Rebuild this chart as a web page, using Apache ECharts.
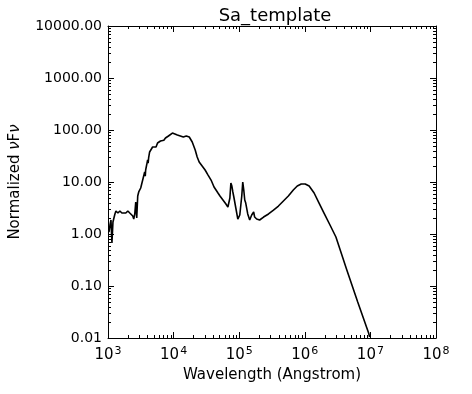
<!DOCTYPE html>
<html>
<head>
<meta charset="utf-8">
<script src="https://cdn.jsdelivr.net/npm/echarts@6/dist/echarts.min.js"></script>
<style>html,body{margin:0;padding:0;background:#fff;}#c{width:472px;height:394px;}</style>
</head>
<body>
<div id="c"></div>
<script>
const titleText = 'Sa_template';
const xName = 'Wavelength (Angstrom)';
const wavelength = [1035,1072,1110,1148,1190,1275,1321,1416,1518,1627,1745,1870,2005,2149,2304,2385,2470,2558,2648,2742,2839,2940,3050,3152,3263,3379,3499,3622,3700,3750,3883,4020,4090,4162,4310,4462,4783,5128,5400,5691,6000,6318,6773,7100,7518,7900,8346,8947,9591,10280,11410,12670,14060,15610,17330,19230,21350,22880,24530,27230,30220,33550,37240,41340,44320,47510,50930,56530,62750,67270,72110,74660,77300,80030,82860,88830,95230,102100,109400,113300,117400,121500,125800,134900,144600,155000,166200,172000,184500,204700,235300,279900,333200,396300,471800,561100,668000,767600,882300,1014000,1165000,1387000,1650000,1963000,2421000,2981000,4371000,6407000,9393000,9727000];
const flux = [1.09,1.49,1.86,0.671,1.70,2.43,2.77,2.53,2.77,2.53,2.65,2.53,2.77,2.53,2.65,2.22,1.94,2.43,4.12,2.03,5.38,6.43,5.9,7.67,9.15,10.9,10.0,15.6,13.0,17.0,21.2,26.5,23.0,29.0,37.8,41.2,47.1,49.2,47.0,56.2,60.5,61.4,64.3,63.5,70.2,74.0,76.7,83.8,87.5,83.8,80.2,76.7,73.3,76.7,73.3,58.8,41.2,30.3,24.3,20.3,17.0,13.6,10.9,8.02,7.01,6.14,5.38,4.51,3.78,3.30,4.92,9.57,8.37,6.43,5.15,3.16,1.94,2.32,5.38,10.0,7.01,4.51,3.94,2.43,1.86,2.32,2.65,2.12,1.94,1.86,2.12,2.43,2.89,3.45,4.31,5.38,7.01,8.37,9.15,9.15,8.37,6.14,3.94,2.53,1.49,0.875,0.203,0.0492,0.01248,0.01045];
const xMin = 1e3, xMax = 1e8;
const yMin = 0.01, yMax = 1e4;
const xDecades = [3,4,5,6,7];
const yDecades = [-2,-1,0,1,2,3];
const minorMult = [2,3,4,5,6,7,8,9];

const FONT = 'DejaVu Sans';
const xMinor = [];
xDecades.forEach(d => minorMult.forEach(m => xMinor.push([m * Math.pow(10, d), 1])));
const yMinor = [];
yDecades.forEach(d => minorMult.forEach(m => yMinor.push([1e4, m * Math.pow(10, d)])));

const chart = echarts.init(document.getElementById('c'), null, {renderer: 'canvas'});
const lineSt = {stroke: '#000', lineWidth: 1};
function xMinorRender(params, api) {
  const cs = params.coordSys;
  const x = Math.round(api.coord([api.value(0), 1])[0]) + 0.5;
  const b = cs.y + cs.height, t = cs.y;
  return {type: 'group', children: [
    {type: 'line', shape: {x1: x, y1: b, x2: x, y2: b - 3}, style: lineSt},
    {type: 'line', shape: {x1: x, y1: t, x2: x, y2: t + 3}, style: lineSt}
  ]};
}
function yMinorRender(params, api) {
  const cs = params.coordSys;
  const y = Math.round(api.coord([1e4, api.value(1)])[1]) + 0.5;
  const l = cs.x, r = cs.x + cs.width;
  return {type: 'group', children: [
    {type: 'line', shape: {x1: l, y1: y, x2: l + 3, y2: y}, style: lineSt},
    {type: 'line', shape: {x1: r, y1: y, x2: r - 3, y2: y}, style: lineSt}
  ]};
}
const axisCommon = {
  axisLine: {show: true, lineStyle: {color: '#000', width: 1}},
  axisTick: {show: true, inside: true, length: 6, lineStyle: {color: '#000', width: 1}},
  splitLine: {show: false},
  minorTick: {show: false}
};
chart.setOption({
  animation: false,
  backgroundColor: '#fff',
  title: {
    text: titleText, left: 270, top: 2, textAlign: 'center',
    textStyle: {fontFamily: FONT, fontSize: 18, fontWeight: 'normal', color: '#000'}
  },
  grid: {left: 105, top: 26, width: 331, height: 312},
  xAxis: [
    Object.assign({}, axisCommon, {
      type: 'log', logBase: 10, min: xMin, max: xMax, splitNumber: 5, position: 'bottom',
      name: xName, nameLocation: 'middle', nameGap: 26,
      nameTextStyle: {fontFamily: FONT, fontSize: 15, color: '#000'},
      axisLabel: {
        margin: 8, color: '#000',
        formatter: v => '{b|10}{s|' + Math.round(Math.log10(v)) + '}',
        rich: {
          b: {fontFamily: FONT, fontSize: 15, color: '#000'},
          s: {fontFamily: FONT, fontSize: 11, color: '#000', padding: [0, 0, 8, 1]}
        }
      }
    }),
    Object.assign({}, axisCommon, {
      type: 'log', logBase: 10, min: xMin, max: xMax, splitNumber: 5, position: 'top',
      axisLabel: {show: false}
    })
  ],
  yAxis: [
    Object.assign({}, axisCommon, {
      type: 'log', logBase: 10, min: yMin, max: yMax, splitNumber: 6, position: 'left',
      name: 'Normalized {i|ν}F{i|ν}', nameLocation: 'middle', nameGap: 85, nameRotate: 90,
      nameTextStyle: {fontFamily: FONT, fontSize: 15, color: '#000',
        rich: {i: {fontFamily: FONT, fontSize: 15, fontStyle: 'italic', color: '#000'}}},
      axisLabel: {margin: 6, color: '#000', fontFamily: FONT, fontSize: 14,
        formatter: v => Number(v).toFixed(2)}
    }),
    Object.assign({}, axisCommon, {
      type: 'log', logBase: 10, min: yMin, max: yMax, splitNumber: 6, position: 'right',
      axisLabel: {show: false}
    })
  ],
  series: [
    {
      type: 'line', xAxisIndex: 0, yAxisIndex: 0,
      data: wavelength.map((w, i) => [w, flux[i]]),
      showSymbol: false, symbol: 'none',
      lineStyle: {color: '#000', width: 1.6},
      clip: true
    },
    {type: 'custom', xAxisIndex: 0, yAxisIndex: 0, data: xMinor, renderItem: xMinorRender, clip: false, silent: true},
    {type: 'custom', xAxisIndex: 0, yAxisIndex: 0, data: yMinor, renderItem: yMinorRender, clip: false, silent: true}
  ]
});
</script>
</body>
</html>
